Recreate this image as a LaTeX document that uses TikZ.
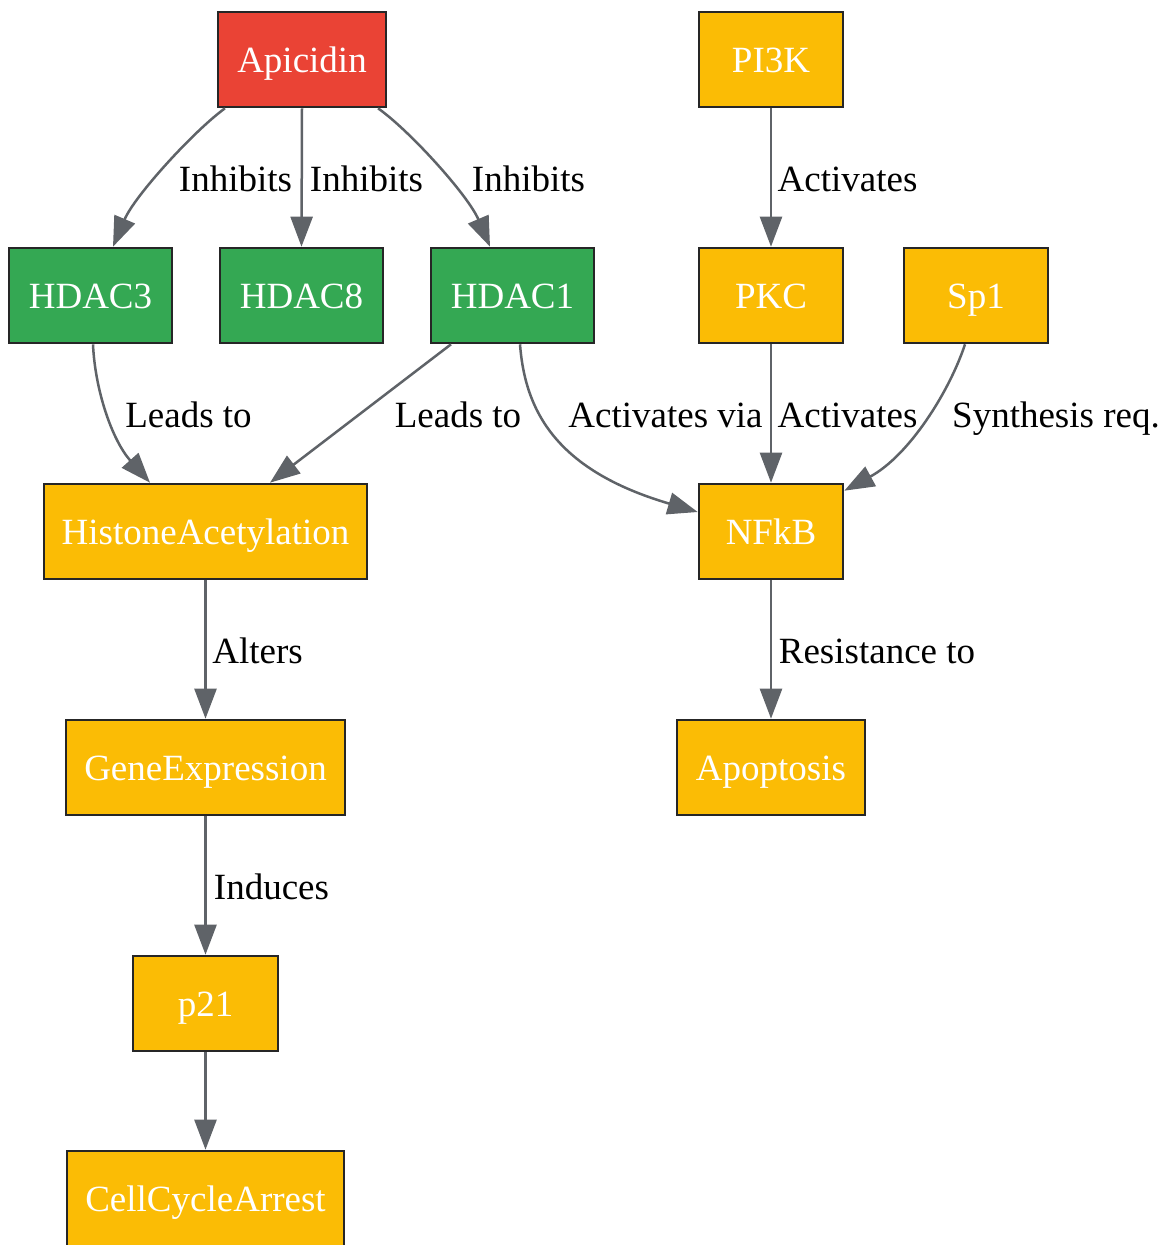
\documentclass[tikz,border=0pt]{standalone}
\usepackage{fontspec}
\setmainfont{Liberation Serif}
\usetikzlibrary{arrows.meta}
\definecolor{cred}{HTML}{EA4335}
\definecolor{cgreen}{HTML}{34A853}
\definecolor{cyellow}{HTML}{FBBC05}
\definecolor{cedge}{HTML}{5F6368}
\definecolor{cborder}{HTML}{262626}
\tikzset{
  box/.style={draw=cborder, line width=2.6pt, inner sep=0pt, minimum height=95pt,
    text=white, font=\fontsize{37}{44}\selectfont, text height=25pt, text depth=0pt},
  redbox/.style={box, fill=cred},
  greenbox/.style={box, fill=cgreen},
  yelbox/.style={box, fill=cyellow},
  edge/.style={draw=cedge, line width=2.5pt, -{Triangle[length=30pt,width=22pt]}},
  lbl/.style={inner sep=0pt, font=\fontsize{37}{44}\selectfont, text height=25pt, text depth=0pt}
}
\begin{document}
\begin{tikzpicture}[x=1pt,y=-1pt]
\useasboundingbox (0,0) rectangle (1164,1245);
% nodes
\node[redbox, minimum width=168pt] (ap) at (302,59.5) {Apicidin};
\node[yelbox, minimum width=144pt] (pi) at (771,59.5) {PI3K};
\node[greenbox, minimum width=163pt] (h3) at (90.5,295.5) {HDAC3};
\node[greenbox, minimum width=163pt] (h8) at (301.5,295.5) {HDAC8};
\node[greenbox, minimum width=163pt] (h1) at (512.5,295.5) {HDAC1};
\node[yelbox, minimum width=144pt] (pk) at (771,295.5) {PKC};
\node[yelbox, minimum width=144pt] (sp) at (976,295.5) {Sp1};
\node[yelbox, minimum width=323pt] (ha) at (205.5,531.5) {HistoneAcetylation};
\node[yelbox, minimum width=144pt] (nf) at (771,531.5) {NFkB};
\node[yelbox, minimum width=279pt] (ge) at (205.5,767.5) {GeneExpression};
\node[yelbox, minimum width=188pt] (apo) at (771,767.5) {Apoptosis};
\node[yelbox, minimum width=145pt] (p21) at (205.5,1003.5) {p21};
\node[yelbox, minimum width=277pt] (cca) at (205.5,1198.5) {CellCycleArrest};
% edges
\draw[edge] ([xshift=-77pt]ap.south) .. controls (195,130) and (135,195) .. ([xshift=22.5pt]h3.north);
\draw[edge] (ap.south) -- (h8.north);
\draw[edge] ([xshift=76pt]ap.south) .. controls (409,130) and (468,195) .. ([xshift=-22.5pt]h1.north);
\draw[edge] (pi) -- (pk);
\draw[edge] ([xshift=2.5pt]h3.south) .. controls (95,390) and (112,440) .. ([xshift=-55.5pt]ha.north);
\draw[edge] ([xshift=-61.5pt]h1.south) -- ([xshift=64.5pt]ha.north);
\draw[edge] ([xshift=7.5pt]h1.south) .. controls (525,410) and (555,470) .. ([yshift=19.5pt]nf.west);
\draw[edge] (pk) -- (nf);
\draw[edge] ([xshift=-11pt]sp.south) .. controls (950,390) and (910,455) .. ([yshift=-8pt]nf.north east);
\draw[edge] (ha) -- (ge);
\draw[edge] (nf) -- (apo);
\draw[edge] (ge) -- (p21);
\draw[edge] (p21) -- (cca);
% labels
\node[lbl] (l1) at (235.5,179) {Inhibits};
\node[lbl] (l2) at (366.5,179) {Inhibits};
\node[lbl] (l3) at (528.5,179) {Inhibits};
\node[lbl] (l4) at (847.5,179) {Activates};
\node[lbl] (l5) at (188.5,415) {Leads to};
\node[lbl] (l6) at (458,415) {Leads to};
\node[lbl] (l7) at (665.5,415) {Activates via};
\node[lbl] (l8) at (847.5,415) {Activates};
\node[lbl] (l9) at (1056,415) {Synthesis req.};
\node[lbl] (l10) at (257.5,651) {Alters};
\node[lbl] (l11) at (877,651) {Resistance to};
\node[lbl] (l12) at (271.5,887) {Induces};
\end{tikzpicture}
\end{document}
